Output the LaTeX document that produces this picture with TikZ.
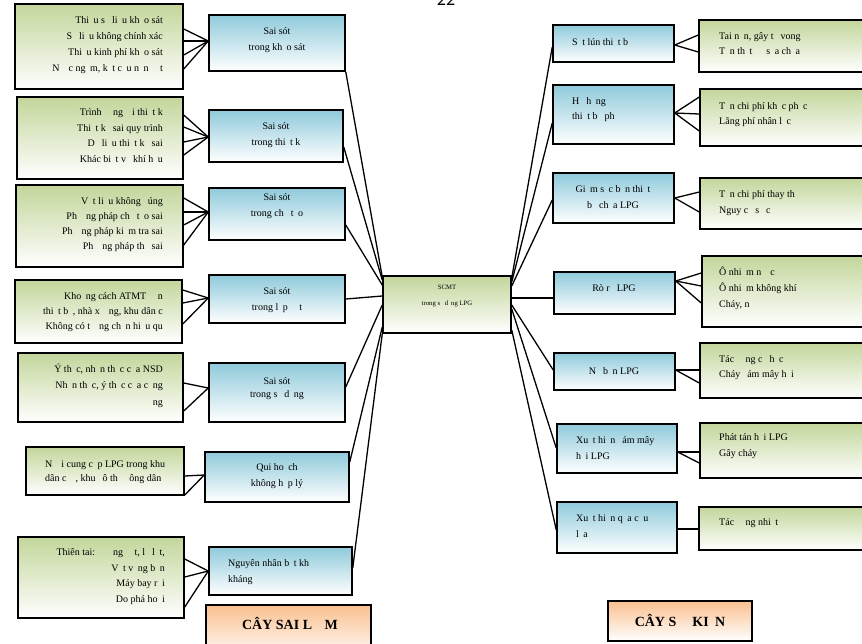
\documentclass[tikz,border=0pt]{standalone}
\usepackage{fontspec}
\setmainfont{Liberation Serif}
\newfontfamily\pgnumfont{Carlito}
\usetikzlibrary{fit,calc}
\newcommand{\xg}{\hspace{0.45em}}
\definecolor{gtop}{HTML}{C3D69B}
\definecolor{btop}{HTML}{8FCADB}
\definecolor{otop}{HTML}{FAC08F}
\tikzset{
  box/.style={draw=black, line width=1.5pt, inner sep=0pt},
  gbox/.style={box, top color=gtop, bottom color=white},
  bbox/.style={box, top color=btop, bottom color=white},
  obox/.style={box, top color=otop, bottom color=white},
  txt/.style={inner sep=0pt, font=\fontsize{10}{15.5}\selectfont},
  conn/.style={line width=1.3pt},
}
\begin{document}
\begin{tikzpicture}[x=1pt,y=-1pt]
\useasboundingbox (0,0) rectangle (862,643);
\clip (0,0) rectangle (862,643);
\node[anchor=base, font=\pgnumfont\fontsize{18}{18}\selectfont, inner sep=0pt] (pg) at (446,5.5) {22};
% left green boxes
\node[gbox, fit={(15,4) (183,89)}] (L1) {};
\node[gbox, fit={(17,97) (183,179)}] (L2) {};
\node[gbox, fit={(16,185) (183,267)}] (L3) {};
\node[gbox, fit={(15,280) (182,343)}] (L4) {};
\node[gbox, fit={(18,353) (183,422)}] (L5) {};
\node[gbox, fit={(26,447) (184,495)}] (L6) {};
\node[gbox, fit={(18,537) (184,618)}] (L7) {};
% left blue boxes
\node[bbox, fit={(209,15) (345,71)}] (B1) {};
\node[bbox, fit={(209,110) (343,162)}] (B2) {};
\node[bbox, fit={(209,188) (345,240)}] (B3) {};
\node[bbox, fit={(209,275) (345,323)}] (B4) {};
\node[bbox, fit={(209,363) (345,422)}] (B5) {};
\node[bbox, fit={(205,452) (349,502)}] (B6) {};
\node[bbox, fit={(209,547) (352,595)}] (B7) {};
\node[obox, fit={(206,605) (371,660)}] (O1) {};
% center
\node[gbox, fit={(383,276) (511,333)}] (C) {};
% right blue boxes
\node[bbox, fit={(553,25) (674,62)}] (R1) {};
\node[bbox, fit={(553,85) (674,144)}] (R2) {};
\node[bbox, fit={(553,173) (674,223)}] (R3) {};
\node[bbox, fit={(554,272) (675,314)}] (R4) {};
\node[bbox, fit={(554,353) (675,390)}] (R5) {};
\node[bbox, fit={(557,424) (677,473)}] (R6) {};
\node[bbox, fit={(557,502) (677,553)}] (R7) {};
\node[obox, fit={(608,601) (752,641)}] (O2) {};
% right green boxes
\node[gbox, fit={(699,20) (885,72)}] (G1) {};
\node[gbox, fit={(700,89) (885,146)}] (G2) {};
\node[gbox, fit={(700,178) (885,229)}] (G3) {};
\node[gbox, fit={(702,256) (885,327)}] (G4) {};
\node[gbox, fit={(700,343) (885,398)}] (G5) {};
\node[gbox, fit={(700,423) (885,478)}] (G6) {};
\node[gbox, fit={(699,507) (885,550)}] (G7) {};
% texts left green
\node[txt, anchor=east, align=right, font=\fontsize{10}{16}\selectfont] (tL1) at (163,45) {Thi\xg u s\xg{} li\xg u kh\xg o sát\\S\xg{} li\xg u không chính xác\\Thi\xg u kinh phí kh\xg o sát\\N\xg\xg c ng\xg m, k\xg t c\xg u n\xg n \xg\xg t};
\node[txt, anchor=east, align=right, font=\fontsize{10}{15.7}\selectfont] (tL2) at (163,135.5) {Trình \xg\xg ng\xg\xg i thi\xg t k\xg\\Thi\xg t k\xg{} sai quy trình\\D\xg{} li\xg u thi\xg t k\xg{} sai\\Khác bi\xg t v\xg{} khí h\xg u};
\node[txt, anchor=east, align=right, font=\fontsize{10}{15}\selectfont] (tL3) at (163,224.5) {V\xg t li\xg u không \xg úng\\Ph\xg\xg ng pháp ch\xg{} t\xg o sai\\Ph\xg\xg ng pháp ki\xg m tra sai\\Ph\xg\xg ng pháp th\xg{} sai};
\node[txt, anchor=east, align=right, font=\fontsize{10}{15}\selectfont] (tL4) at (163,312) {Kho\xg ng cách ATMT \xg\xg n\\thi\xg t b\xg , nhà x\xg\xg ng, khu dân c\\Không có t\xg\xg ng ch\xg n hi\xg u qu};
\node[txt, anchor=east, align=right, font=\fontsize{10}{16.5}\selectfont] (tL5) at (163,385.5) {Ý th\xg c, nh\xg n th\xg c c\xg a NSD\\Nh\xg n th\xg c, ý th\xg c c\xg a c\xg ng\\ng};
\node[txt, anchor=west, align=left, font=\fontsize{10}{14}\selectfont] (tL6) at (45,472.5) {N\xg\xg i cung c\xg p LPG trong khu\\dân c\xg\xg , khu \xg ô th\xg{} \xg ông dân};
\node[txt, anchor=east, align=right, font=\fontsize{10}{15.7}\selectfont] (tL7) at (165,576.5) {Thiên tai:\hspace{0.9em}\xg\xg ng \xg\xg t, l\xg{} l\xg t,\\V\xg t v\xg ng b\xg n\\Máy bay r\xg i\\Do phá ho\xg i};
% texts left blue
\node[txt, align=center] (tB1) at (277,40) {Sai sót\\trong kh\xg o sát};
\node[txt, align=center] (tB2) at (276,135) {Sai sót\\trong thi\xg t k};
\node[txt, align=center] (tB3) at (277,206) {Sai sót\\trong ch\xg{} t\xg o};
\node[txt, align=center] (tB4) at (277,300) {Sai sót\\trong l\xg p \xg\xg t};
\node[txt, align=center, font=\fontsize{10}{13}\selectfont] (tB5) at (277,389) {Sai sót\\trong s\xg{} d\xg ng};
\node[txt, align=center, font=\fontsize{10}{16}\selectfont] (tB6) at (277,476.5) {Qui ho\xg ch\\không h\xg p lý};
\node[txt, anchor=west, align=left, font=\fontsize{10}{16}\selectfont] (tB7) at (228,572) {Nguyên nhân b\xg t kh\\kháng};
\node[inner sep=0pt, font=\fontsize{14}{16}\selectfont\bfseries] (tO1) at (290,623) {CÂY SAI L\xg\xg M};
% center text
\node[inner sep=0pt, align=center, font=\fontsize{6.7}{16}\selectfont] (tC) at (447,296) {SCMT\\trong s\xg{} d\xg ng LPG};
% texts right blue
\node[txt, anchor=west] (tR1) at (572,42) {S\xg t lún thi\xg t b};
\node[txt, anchor=west, align=left, font=\fontsize{10}{15}\selectfont] (tR2) at (572,109.5) {H\xg{} h\xg ng\\thi\xg t b\xg{} ph};
\node[txt, align=center, font=\fontsize{10}{16}\selectfont] (tR3) at (613,197) {Gi\xg m s\xg c b\xg n thi\xg t\\b\xg{} ch\xg a LPG};
\node[txt] (tR4) at (614,288) {Rò r\xg{} LPG};
\node[txt] (tR5) at (614,371) {N\xg{} b\xg n LPG};
\node[txt, anchor=west, align=left, font=\fontsize{10}{16}\selectfont] (tR6) at (576,448) {Xu\xg t hi\xg n \xg ám mây\\h\xg i LPG};
\node[txt, anchor=west, align=left, font=\fontsize{10}{16}\selectfont] (tR7) at (576,526) {Xu\xg t hi\xg n q\xg a c\xg u\\l\xg a};
\node[inner sep=0pt, font=\fontsize{14}{16}\selectfont\bfseries] (tO2) at (680,620) {CÂY S\xg{} \xg KI\xg N};
% texts right green
\node[txt, anchor=west, align=left] (tG1) at (719,43.5) {Tai n\xg n, gây t\xg{} vong\\T\xg n th\xg t \xg\xg{} s\xg a ch\xg a};
\node[txt, anchor=west, align=left] (tG2) at (719,114.5) {T\xg n chi phí kh\xg c ph\xg c\\Lãng phí nhân l\xg c};
\node[txt, anchor=west, align=left, font=\fontsize{10}{16}\selectfont] (tG3) at (719,203) {T\xg n chi phí thay th\\Nguy c\xg{} s\xg{} c};
\node[txt, anchor=west, align=left, font=\fontsize{10}{16}\selectfont] (tG4) at (719,288.7) {Ô nhi\xg m n\xg\xg c\\Ô nhi\xg m không khí\\Cháy, n};
\node[txt, anchor=west, align=left] (tG5) at (719,367.5) {Tác \xg\xg ng c\xg{} h\xg c\\Cháy \xg ám mây h\xg i};
\node[txt, anchor=west, align=left, font=\fontsize{10}{16}\selectfont] (tG6) at (719,446) {Phát tán h\xg i LPG\\Gây cháy};
\node[txt, anchor=west] (tG7) at (719,523) {Tác \xg\xg ng nhi\xg t};
% fans left
\foreach \yy in {29,41,55,69} \draw[conn] (L1.east |- 0,\yy) -- (B1.west |- 0,41);
\foreach \yy in {115,127,142,155} \draw[conn] (L2.east |- 0,\yy) -- (B2.west |- 0,137);
\foreach \yy in {198,212,225,245} \draw[conn] (L3.east |- 0,\yy) -- (B3.west |- 0,212);
\foreach \yy in {290,303,324} \draw[conn] (L4.east |- 0,\yy) -- (B4.west |- 0,298);
\foreach \yy in {383,411} \draw[conn] (L5.east |- 0,\yy) -- (B5.west |- 0,388);
\foreach \yy in {476,495} \draw[conn] (L6.east |- 0,\yy) -- (B6.west |- 0,475);
\foreach \yy in {559,577,607} \draw[conn] (L7.east |- 0,\yy) -- (B7.west |- 0,571);
% left blue to center
\draw[conn] (B1.south east) -- (C.west |- 0,277);
\draw[conn] (B2.east |- 0,147) -- (C.west |- 0,280);
\draw[conn] (B3.east |- 0,225) -- (C.west |- 0,285);
\draw[conn] (B4.east |- 0,299) -- (C.west |- 0,296);
\draw[conn] (B5.east |- 0,387) -- (C.west |- 0,305);
\draw[conn] (B6.east |- 0,462) -- (C.west |- 0,327);
\draw[conn] (B7.east |- 0,568) -- (C.south west);
% center to right blue
\draw[conn] (C.east |- 0,278) -- (R1.west |- 0,47);
\draw[conn] (C.east |- 0,282) -- (R2.west |- 0,123);
\draw[conn] (C.east |- 0,286) -- (R3.west |- 0,200);
\draw[conn] (C.east |- 0,298) -- (R4.west |- 0,298);
\draw[conn] (C.east |- 0,305) -- (R5.west |- 0,370);
\draw[conn] (C.east |- 0,309) -- (R6.west |- 0,448);
\draw[conn] (C.east |- 0,330) -- (R7.west |- 0,530);
% fans right
\foreach \yy in {35,52} \draw[conn] (R1.east |- 0,45) -- (G1.west |- 0,\yy);
\foreach \yy in {97,114,131} \draw[conn] (R2.east |- 0,113) -- (G2.west |- 0,\yy);
\foreach \yy in {192,212} \draw[conn] (R3.east |- 0,198) -- (G3.west |- 0,\yy);
\foreach \yy in {273,286,303} \draw[conn] (R4.east |- 0,281) -- (G4.west |- 0,\yy);
\foreach \yy in {370,383} \draw[conn] (R5.east |- 0,370) -- (G5.west |- 0,\yy);
\foreach \yy in {452,463} \draw[conn] (R6.east |- 0,452) -- (G6.west |- 0,\yy);
\draw[conn] (R7.east |- 0,529) -- (G7.west |- 0,529);
\end{tikzpicture}
\end{document}
